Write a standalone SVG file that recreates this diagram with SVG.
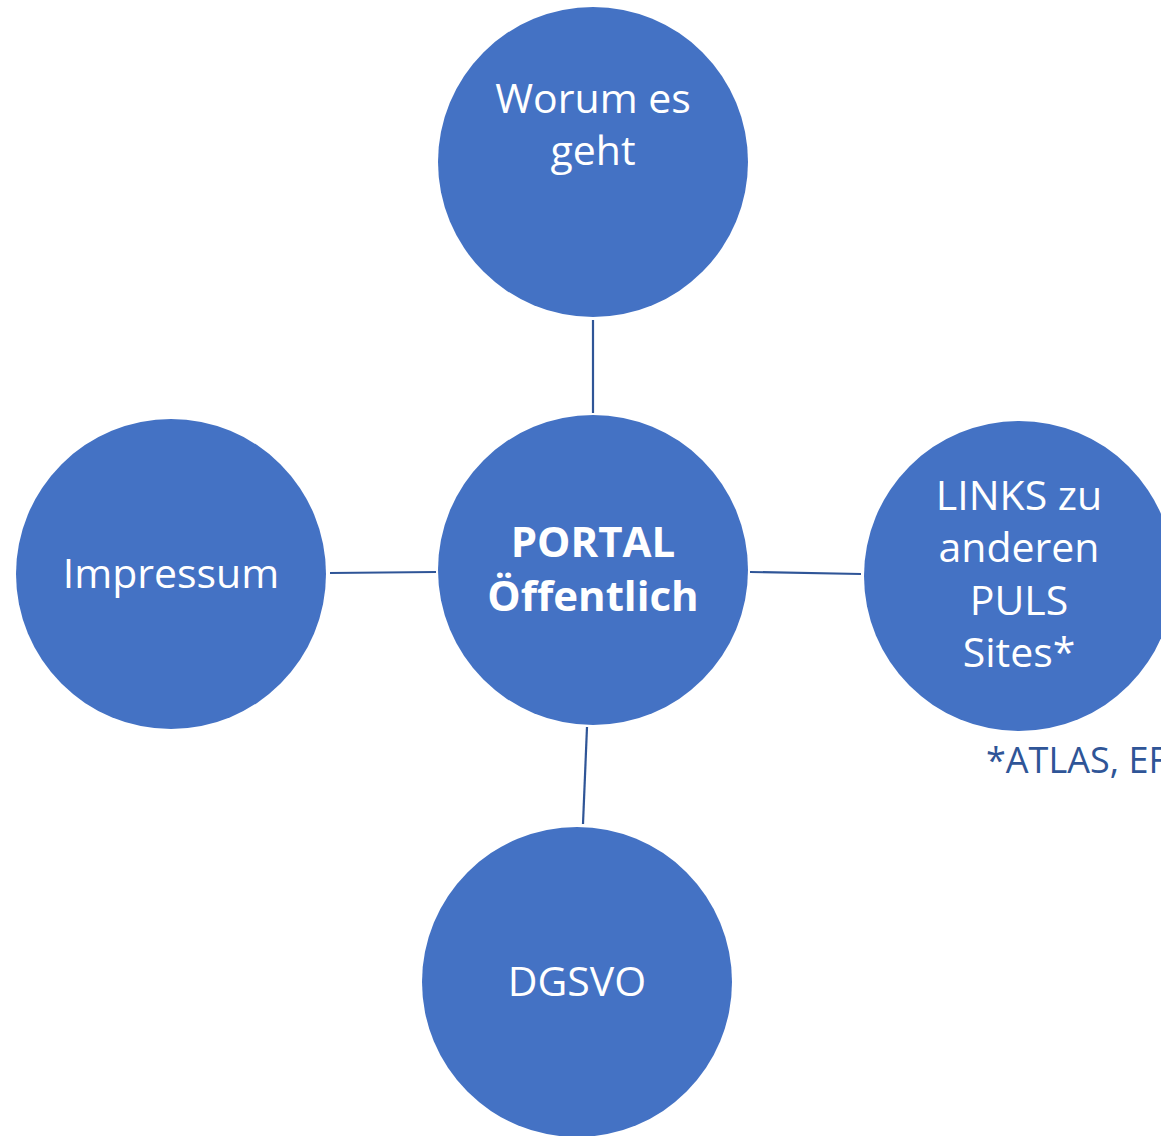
<svg xmlns="http://www.w3.org/2000/svg" width="1161" height="1136" viewBox="0 0 1161 1136">
<style>
.node{fill:#4472C4;}
.lbl{fill:#FFFFFF;font-family:"Open Sans","Liberation Sans",sans-serif;font-size:41px;text-anchor:middle;}
.bold{font-weight:bold;font-size:42px;}
.conn{stroke:#2F5597;stroke-width:2.2;fill:none;}
.note{fill:#2F5597;font-family:"Open Sans","Liberation Sans",sans-serif;font-size:36px;}
</style>
<rect width="1161" height="1136" fill="#FFFFFF"/>
<g id="connectors">
<line class="conn" x1="593" y1="320" x2="593" y2="413"/>
<line class="conn" x1="330" y1="573" x2="436" y2="572"/>
<line class="conn" x1="750" y1="572" x2="861" y2="574"/>
<line class="conn" x1="587" y1="727" x2="583" y2="824"/>
</g>
<g id="node-worum">
<circle class="node" cx="593" cy="162" r="155"/>
<text class="lbl" x="593" y="113">Worum es</text>
<text class="lbl" x="593" y="165">geht</text>
</g>
<g id="node-portal">
<circle class="node" cx="593" cy="570" r="155"/>
<text class="lbl bold" x="593" y="557">PORTAL</text>
<text class="lbl bold" x="593" y="611">Öffentlich</text>
</g>
<g id="node-impressum">
<circle class="node" cx="171" cy="574" r="155"/>
<text class="lbl" x="171" y="588">Impressum</text>
</g>
<g id="node-links">
<circle class="node" cx="1019" cy="576" r="155"/>
<text class="lbl" x="1019" y="510">LINKS zu</text>
<text class="lbl" x="1019" y="562">anderen</text>
<text class="lbl" x="1019" y="615">PULS</text>
<text class="lbl" x="1019" y="667">Sites*</text>
</g>
<g id="node-dgsvo">
<circle class="node" cx="577" cy="982" r="155"/>
<text class="lbl" x="577" y="996">DGSVO</text>
</g>
<text class="note" x="986" y="773">*ATLAS, EF</text>
</svg>
